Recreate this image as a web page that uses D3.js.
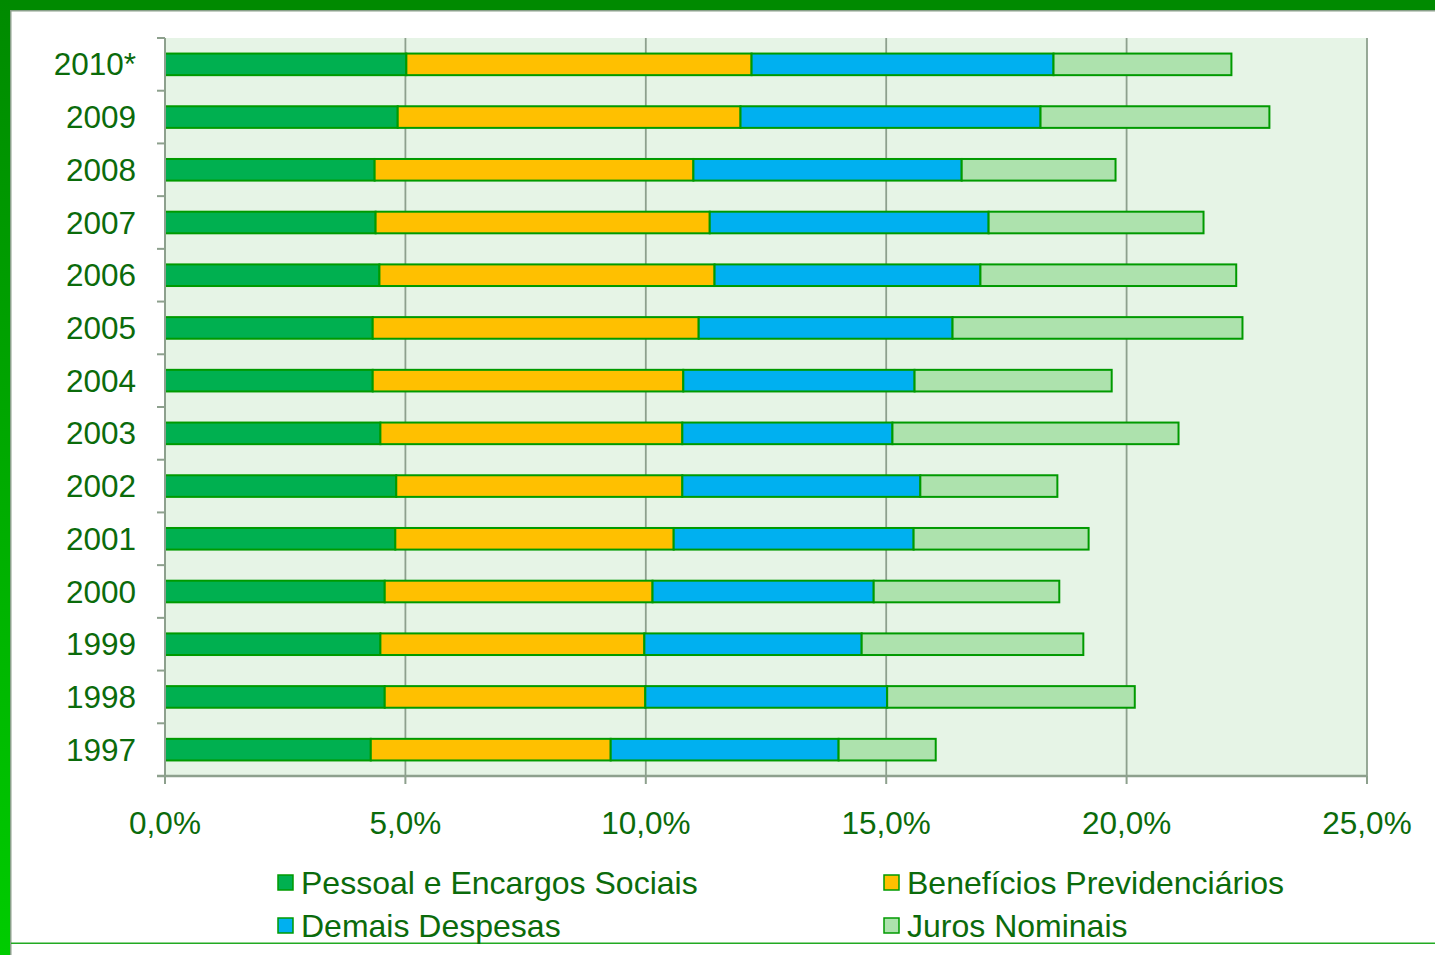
<!DOCTYPE html>
<html>
<head>
<meta charset="utf-8">
<script src="https://cdn.jsdelivr.net/npm/d3@7"></script>
<style>
  body { margin: 0; background: #fff; }
  svg { display: block; font-family: "Liberation Sans", Arial, sans-serif; }
</style>
</head>
<body>
<svg id="chart" width="1435" height="955"></svg>
<script>
// years, top to bottom
var years = ["2010*", "2009", "2008", "2007", "2006", "2005", "2004", "2003", "2002", "2001", "2000", "1999", "1998", "1997"];

// % of GDP
var pessoal  = [5.02, 4.84, 4.36, 4.38, 4.46, 4.32, 4.32, 4.48, 4.81, 4.79, 4.57, 4.48, 4.57, 4.28];
var beneficios = [7.18, 7.13, 6.63, 6.95, 6.97, 6.78, 6.46, 6.28, 5.95, 5.79, 5.57, 5.49, 5.42, 4.99];
var demais   = [6.28, 6.24, 5.58, 5.80, 5.53, 5.28, 4.81, 4.37, 4.95, 4.99, 4.60, 4.52, 5.03, 4.74];
var juros    = [3.70, 4.76, 3.20, 4.47, 5.32, 6.03, 4.10, 5.95, 2.85, 3.64, 3.86, 4.61, 5.15, 2.02];

var seriesNames = ["Pessoal e Encargos Sociais", "Benefícios Previdenciários", "Demais Despesas", "Juros Nominais"];
var seriesColors = ["#00b050", "#ffc000", "#00b0f0", "#ade2ad"];
var xTicks = [0, 5, 10, 15, 20, 25];

var textColor = "#0b6b0b";
var axisColor = "#8da08d";

var svg = d3.select("#chart");

// frame
var defs = svg.append("defs");
var grad = defs.append("linearGradient").attr("id", "leftband")
    .attr("x1", 0).attr("y1", 0).attr("x2", 0).attr("y2", 1);
grad.append("stop").attr("offset", "0%").attr("stop-color", "#008a00");
grad.append("stop").attr("offset", "100%").attr("stop-color", "#00cc00");

svg.append("rect").attr("x", 0).attr("y", 0).attr("width", 1435).attr("height", 10).attr("fill", "#008a00");
svg.append("rect").attr("x", 0).attr("y", 0).attr("width", 10).attr("height", 955).attr("fill", "url(#leftband)");
svg.append("rect").attr("x", 10).attr("y", 10).attr("width", 1425).attr("height", 1.5).attr("fill", "#8aa08a");
svg.append("rect").attr("x", 10).attr("y", 10).attr("width", 1.5).attr("height", 945).attr("fill", "#8aa08a");
svg.append("rect").attr("x", 11).attr("y", 942.5).attr("width", 1424).attr("height", 1.5).attr("fill", "#22aa22");

var pLeft = 165, pRight = 1367, pTop = 38, pBottom = 776;

var x = d3.scaleLinear().domain([0, 25]).range([pLeft, pRight]);
var y = d3.scaleBand().domain(years).range([pTop, pBottom]).paddingInner(0.59).paddingOuter(0.295);
var yOuter = d3.scaleBand().domain(years).range([pTop, pBottom]);

// plot background
svg.append("rect").attr("x", pLeft).attr("y", pTop)
    .attr("width", pRight - pLeft).attr("height", pBottom - pTop)
    .attr("fill", "#e6f4e6");

// vertical gridlines
svg.append("g").selectAll("line")
    .data(xTicks.slice(1))
    .enter().append("line")
    .attr("x1", d => x(d)).attr("x2", d => x(d))
    .attr("y1", pTop).attr("y2", pBottom)
    .attr("stroke", axisColor).attr("stroke-width", 1.8);

// stacked bars
var rows = years.map(function (yr, i) {
    return { year: yr, vals: [pessoal[i], beneficios[i], demais[i], juros[i]] };
});

var stackData = [];
rows.forEach(function (r) {
    var acc = 0;
    r.vals.forEach(function (v, k) {
        stackData.push({ year: r.year, k: k, x0: acc, x1: acc + v });
        acc += v;
    });
});

svg.append("g").selectAll("rect")
    .data(stackData)
    .enter().append("rect")
    .attr("x", d => x(d.x0))
    .attr("y", d => y(d.year))
    .attr("width", d => x(d.x1) - x(d.x0))
    .attr("height", y.bandwidth())
    .attr("fill", d => seriesColors[d.k])
    .attr("stroke", "#009a00")
    .attr("stroke-width", 2);

// y axis
var yAxis = svg.append("g");
yAxis.append("line")
    .attr("x1", pLeft).attr("x2", pLeft).attr("y1", pTop).attr("y2", pBottom + 8)
    .attr("stroke", axisColor).attr("stroke-width", 2);
var yTickPos = years.map(d => yOuter(d)).concat([pBottom]);
yAxis.selectAll("line.tk")
    .data(yTickPos)
    .enter().append("line").attr("class", "tk")
    .attr("x1", pLeft - 8).attr("x2", pLeft)
    .attr("y1", d => d).attr("y2", d => d)
    .attr("stroke", axisColor).attr("stroke-width", 2);
yAxis.selectAll("text")
    .data(years)
    .enter().append("text")
    .attr("x", 136)
    .attr("y", d => yOuter(d) + yOuter.bandwidth() / 2)
    .attr("dy", "0.35em")
    .attr("text-anchor", "end")
    .attr("font-size", 31.5)
    .attr("fill", textColor)
    .text(d => d);

// x axis
var xAxis = svg.append("g");
xAxis.append("line")
    .attr("x1", pLeft - 8).attr("x2", pRight).attr("y1", pBottom).attr("y2", pBottom)
    .attr("stroke", axisColor).attr("stroke-width", 2.5);
xAxis.selectAll("line.tk")
    .data(xTicks)
    .enter().append("line").attr("class", "tk")
    .attr("x1", d => x(d)).attr("x2", d => x(d))
    .attr("y1", pBottom).attr("y2", pBottom + 8)
    .attr("stroke", axisColor).attr("stroke-width", 2);
var fmt = d => d3.format(".1f")(d).replace(".", ",") + "%";
xAxis.selectAll("text")
    .data(xTicks)
    .enter().append("text")
    .attr("x", d => x(d))
    .attr("y", 834)
    .attr("text-anchor", "middle")
    .attr("font-size", 31.5)
    .attr("fill", textColor)
    .text(fmt);

// legend
var legendPos = [[278, 883], [884, 883], [278, 926], [884, 926]];
var legend = svg.append("g").selectAll("g")
    .data(seriesNames)
    .enter().append("g")
    .attr("transform", (d, i) => "translate(" + legendPos[i][0] + "," + legendPos[i][1] + ")");
legend.append("rect")
    .attr("x", 0).attr("y", -8).attr("width", 15).attr("height", 15)
    .attr("fill", (d, i) => seriesColors[i])
    .attr("stroke", "#009a00").attr("stroke-width", 1.5);
legend.append("text")
    .attr("x", 23).attr("y", 0).attr("dy", "0.35em")
    .attr("font-size", 32)
    .attr("fill", textColor)
    .text(d => d);
</script>
</body>
</html>
